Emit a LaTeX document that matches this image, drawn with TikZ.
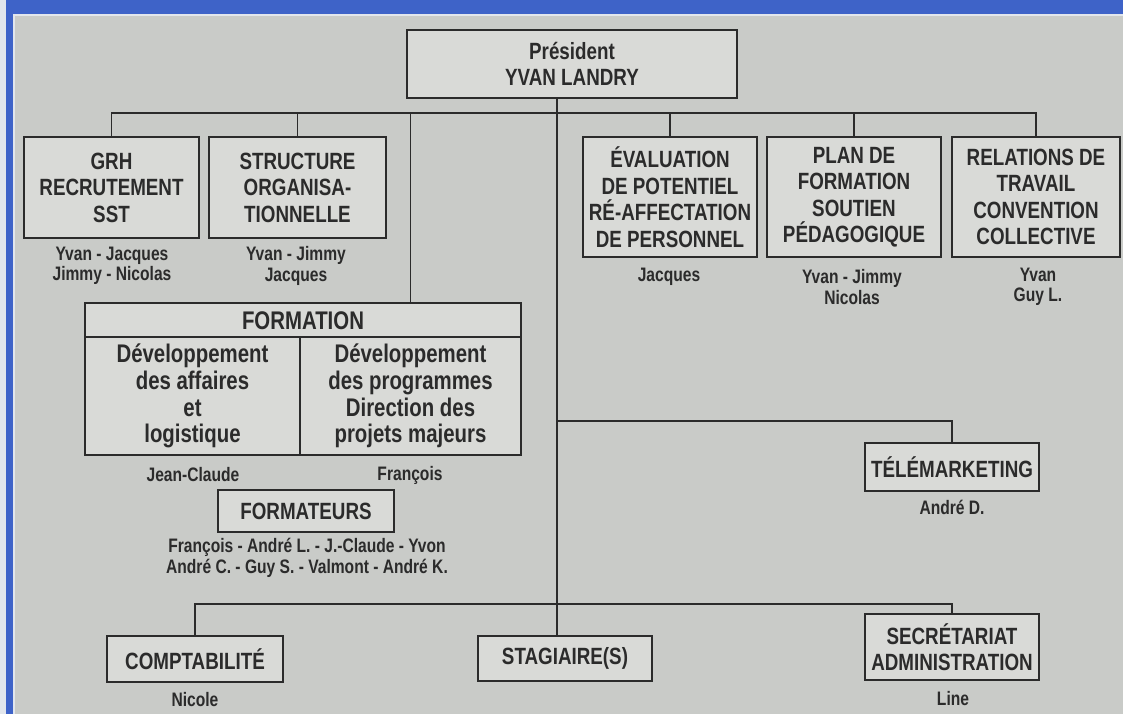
\documentclass[tikz,border=0pt]{standalone}
\usepackage{fontspec}
\setmainfont{Liberation Sans}[FakeStretch=0.8]
\definecolor{fond}{HTML}{C9CBC8}
\definecolor{cadre}{HTML}{D9DAD7}
\definecolor{encre}{HTML}{2B2B2B}
\definecolor{bande}{HTML}{3E63C8}
\definecolor{lisere}{HTML}{E2E6EC}
\begin{document}
\begin{tikzpicture}[x=1pt, y=-1pt,
        box/.style={draw=encre, line width=2.7pt, fill=cadre, text=encre, align=center, inner sep=1pt, font=\bfseries\fontsize{23.5}{26.5}\selectfont},
        grand/.style={font=\bfseries\fontsize{25.5}{26.7}\selectfont},
        noms/.style={text=encre, align=center, inner sep=0pt, font=\bfseries\fontsize{19.5}{20.5}\selectfont},
        lien/.style={draw=encre, line width=1.9pt}]
        \useasboundingbox (0,0) rectangle (1123,714);
        \fill [fond] (0,0) rectangle (1123,714);
        \fill [lisere] (0,0) rectangle (6,714);
        \fill [bande] (6,0) rectangle (13,714);
        \fill [bande] (6,0) rectangle (1123,14);
        \fill [lisere] (13,14) rectangle (15,714);
        \fill [lisere] (13,14) rectangle (1123,16);
        \coordinate (trunk) at (557,0);
        \coordinate (bus) at (0,113);
        \coordinate (telebus) at (0,421);
        \coordinate (basbus) at (0,604);
        \node [box, minimum width=330pt, minimum height=68pt] (pres) at (572,64) {Président\\YVAN LANDRY};
        \node [box, minimum width=175pt, minimum height=101pt] (grh) at (111.5,187.5) {GRH\\RECRUTEMENT\\SST};
        \node [box, minimum width=177pt, minimum height=101pt] (struct) at (297.5,187.5) {STRUCTURE\\ORGANISA-\\TIONNELLE};
        \node [box, minimum width=174pt, minimum height=120pt] (eval) at (670,197) {ÉVALUATION\\DE POTENTIEL\\RÉ-AFFECTATION\\DE PERSONNEL};
        \node [box, minimum width=174pt, minimum height=120pt] (plan) at (854,197) {PLAN DE\\FORMATION\\SOUTIEN\\PÉDAGOGIQUE};
        \node [box, minimum width=168pt, minimum height=120pt] (rel) at (1036,197) {RELATIONS DE\\TRAVAIL\\CONVENTION\\COLLECTIVE};
        \node [noms] (grhnoms) at (112,266) {Yvan - Jacques\\Jimmy - Nicolas};
        \node [noms] (structnoms) at (296,266) {Yvan - Jimmy\\Jacques};
        \node [noms] (evalnoms) at (669,277) {Jacques};
        \node [noms] (plannoms) at (852,287) {Yvan - Jimmy\\Nicolas};
        \node [noms] (relnoms) at (1038,287) {Yvan\\Guy L.};
        \node [box, grand, minimum width=436pt, minimum height=35pt] (form) at (303,320.5) {FORMATION};
        \node [box, grand, minimum width=215pt, minimum height=118pt] (affaires) at (192.5,396) {Développement\\des affaires\\et\\logistique};
        \node [box, grand, minimum width=221pt, minimum height=118pt] (program) at (410.5,396) {Développement\\des programmes\\Direction des\\projets majeurs};
        \node [noms] (affnoms) at (193,475) {Jean-Claude};
        \node [noms] (prognoms) at (410,475) {François};
        \node [box, minimum width=176pt, minimum height=42pt] (formateurs) at (306,511) {FORMATEURS};
        \node [noms] (formnoms) at (307,558) {François - André L. - J.-Claude - Yvon\\André C. - Guy S. - Valmont - André K.};
        \node [box, minimum width=174pt, minimum height=48pt] (tele) at (952,467) {TÉLÉMARKETING};
        \node [noms] (telenoms) at (952,507) {André D.};
        \node [box, minimum width=176pt, minimum height=46pt] (compta) at (195,659) {COMPTABILITÉ};
        \node [noms] (comptanoms) at (195,700) {Nicole};
        \node [box, minimum width=174pt, minimum height=45pt] (stag) at (565,658.5) {STAGIAIRE(S)};
        \node [box, minimum width=174pt, minimum height=66pt] (secr) at (952,647) {SECRÉTARIAT\\ADMINISTRATION};
        \node [noms] (secrnoms) at (953,699) {Line};
        \draw [lien] (pres.south -| trunk) -- (stag.north -| trunk);
        \draw [lien] (grh.north) |- (rel.north |- bus) -- (rel.north);
        \foreach \n in {struct, eval, plan}
            \draw [lien] (\n.north) -- (\n.north |- bus);
        \draw [lien] (form.north -| program.north) -- (program.north |- bus);
        \draw [lien] (trunk |- telebus) -| (tele.north);
        \draw [lien] (compta.north) |- (basbus -| secr.north) -- (secr.north);
        \end{tikzpicture}
\end{document}
